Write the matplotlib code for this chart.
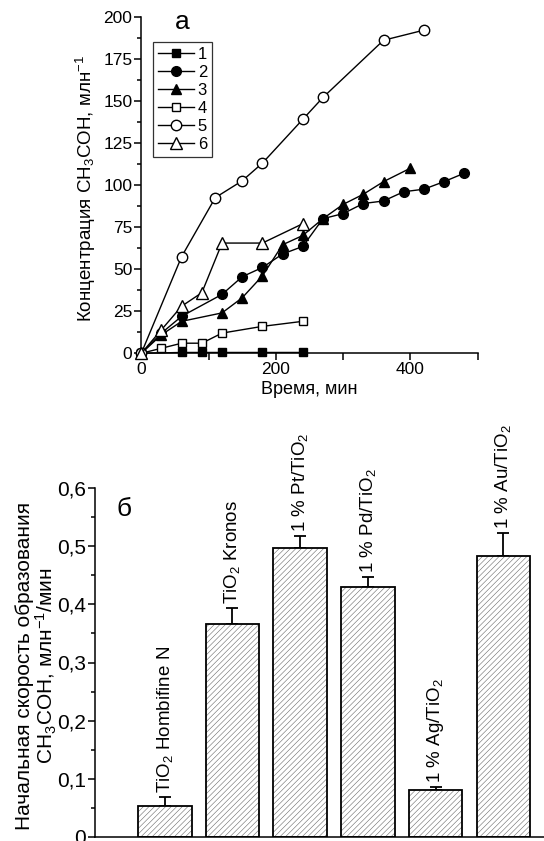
import numpy as np
import matplotlib
matplotlib.use('Agg')
import matplotlib.pyplot as plt
from matplotlib.ticker import MultipleLocator, FixedLocator

plt.rcParams.update({
    'font.family': ['Liberation Sans', 'DejaVu Sans'],
    'mathtext.fontset': 'custom',
    'mathtext.rm': 'Liberation Sans',
    'mathtext.it': 'Liberation Sans:italic',
    'mathtext.bf': 'Liberation Sans:bold',
    'axes.linewidth': 1.1,
    'hatch.linewidth': 0.4,
})

# ── Panel a: CH3COH concentration vs time ───────────────────
t1 = [0, 60, 90, 120, 180, 240]
c1 = [0, 0.5, 0.5, 0.5, 0.5, 0.5]

t2 = [0, 30, 60, 120, 150, 180, 210, 240, 270, 300, 330, 360, 390, 420, 450, 480]
c2 = [0, 12, 22, 35, 45.5, 51, 59, 63.5, 80, 83, 89, 90.5, 96, 97.5, 102, 107]

t3 = [0, 30, 60, 120, 150, 180, 210, 240, 270, 300, 330, 360, 400]
c3 = [0, 11, 19, 24, 33, 46, 64.5, 70, 80, 88.5, 94.5, 102, 110]

t4 = [0, 30, 60, 90, 120, 180, 240]
c4 = [0, 3, 6, 6, 12, 16, 19]

t5 = [0, 60, 110, 150, 180, 240, 270, 360, 420]
c5 = [0, 57.5, 92.5, 102.5, 113, 139, 152, 186, 192]

t6 = [0, 30, 60, 90, 120, 180, 240]
c6 = [0, 14, 28, 36, 65.5, 65.5, 77]

series = [
    (t1, c1, 's', 'k', '1', 6),
    (t2, c2, 'o', 'k', '2', 7),
    (t3, c3, '^', 'k', '3', 7.5),
    (t4, c4, 's', 'white', '4', 6),
    (t5, c5, 'o', 'white', '5', 7.5),
    (t6, c6, '^', 'white', '6', 8),
]

# ── Panel б: initial rate of CH3COH formation ───────────────
catalysts = [r'TiO$_2$ Hombifine N', r'TiO$_2$ Kronos', r'1 % Pt/TiO$_2$',
             r'1 % Pd/TiO$_2$', r'1 % Ag/TiO$_2$', r'1 % Au/TiO$_2$']
rates = [0.053, 0.367, 0.497, 0.430, 0.080, 0.483]
rate_err = [0.015, 0.027, 0.021, 0.017, 0.006, 0.039]
rate_ticks = [0, 0.1, 0.2, 0.3, 0.4, 0.5, 0.6]
rate_ticklabels = ['0', '0,1', '0,2', '0,3', '0,4', '0,5', '0,6']

W, H = 544, 841
fig = plt.figure(figsize=(W / 100, H / 100), dpi=100)

# top panel
ax1 = fig.add_axes([141.3 / W, 1 - 353.3 / H, 336.4 / W, 336.6 / H])
for t, c, m, fc, lab, ms in series:
    ax1.plot(t, c, color='k', lw=1.0, marker=m, markersize=ms,
             markerfacecolor=fc, markeredgecolor='k', markeredgewidth=1.0,
             label=lab, clip_on=False, zorder=3)

ax1.set_xlim(0, 500)
ax1.set_ylim(0, 200)
ax1.spines['top'].set_visible(False)
ax1.spines['right'].set_visible(False)
ax1.xaxis.set_major_locator(FixedLocator([0, 100, 200, 300, 400, 500]))
ax1.set_xticklabels(['0', '', '200', '', '400', ''])
ax1.yaxis.set_major_locator(MultipleLocator(25))
ax1.yaxis.set_minor_locator(MultipleLocator(12.5))
ax1.tick_params(axis='both', which='major', direction='out', length=5,
                width=1.1, labelsize=12.5, pad=1.5)
ax1.tick_params(axis='y', which='minor', direction='out', length=3, width=1.1)
ax1.set_xlabel('Время, мин', fontsize=13, labelpad=3)
ax1.set_ylabel(r'Концентрация CH$_3$COH, млн$^{-1}$', fontsize=13.5)
ax1.yaxis.set_label_coords(-0.128, 0.49)
ax1.text(0.123, 0.985, 'а', transform=ax1.transAxes, fontsize=19,
         ha='center', va='center')
leg = ax1.legend(loc='upper left', bbox_to_anchor=(0.034, 0.924),
                 borderaxespad=0, fontsize=12, frameon=True, fancybox=False,
                 edgecolor='k', handlelength=2.2, handletextpad=0.2,
                 labelspacing=0.18, borderpad=0.3)
leg.get_frame().set_linewidth(0.9)

# bottom panel
ax2 = fig.add_axes([95 / W, 1 - 837 / H, (W - 95) / W, 349 / H])
x = np.arange(1, len(rates) + 1)
ax2.bar(x, rates, width=0.79, facecolor='white', edgecolor='#6a6a6a',
        hatch='//////', linewidth=0, zorder=2)
ax2.bar(x, rates, width=0.79, facecolor='none', edgecolor='k',
        linewidth=1.3, zorder=3)
ax2.errorbar(x, rates, yerr=[np.zeros(len(rates)), rate_err], fmt='none',
             ecolor='k', elinewidth=1.3, capsize=4, capthick=1.3, zorder=1)
for xi, r, e, lab in zip(x, rates, rate_err, catalysts):
    ax2.annotate(lab, (xi, r + e), xytext=(0, 3), textcoords='offset points',
                 rotation=90, ha='center', va='bottom', fontsize=13.5,
                 annotation_clip=False)

ax2.set_xlim(-0.03, 6.6)
ax2.set_ylim(0, 0.6)
ax2.spines['top'].set_visible(False)
ax2.spines['right'].set_visible(False)
ax2.set_xticks([])
ax2.yaxis.set_major_locator(FixedLocator(rate_ticks))
ax2.yaxis.set_minor_locator(FixedLocator([0.05, 0.15, 0.25, 0.35, 0.45, 0.55]))
ax2.set_yticklabels(rate_ticklabels)
ax2.tick_params(axis='y', which='major', direction='out', length=5,
                width=1.1, labelsize=15, pad=1.5)
ax2.tick_params(axis='y', which='minor', direction='out', length=3, width=1.1)
ax2.set_ylabel('Начальная скорость образования\n'
               r'CH$_3$COH, млн$^{-1}$/мин', fontsize=15, linespacing=1.0)
ax2.yaxis.set_label_coords(-0.08, 0.49)
ax2.text(0.065, 0.94, 'б', transform=ax2.transAxes, fontsize=19,
         ha='center', va='center')

fig.savefig('out.png', dpi=100)
